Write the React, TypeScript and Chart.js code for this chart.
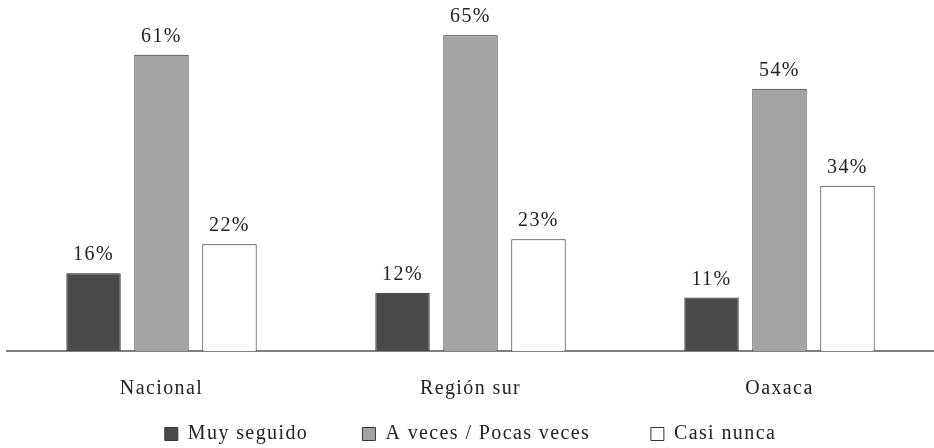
import React, { useEffect, useRef } from "react";
import { Chart, registerables } from "chart.js";

Chart.register(...registerables);

const categories = ["Nacional", "Región sur", "Oaxaca"];
const seriesNames = ["Muy seguido", "A veces / Pocas veces", "Casi nunca"];
const muySeguido = [16, 12, 11];
const aVeces = [61, 65, 54];
const casiNunca = [22, 23, 34];
const seriesColors = ["#4a4a4a", "#a3a3a3", "#ffffff"];

const FONT = "'Liberation Serif', 'Times New Roman', serif";
const SPACING = "1.4px";

const spacingPlugin = {
  id: "spacing",
  beforeUpdate(chart: any) {
    chart.ctx.letterSpacing = SPACING;
  },
  beforeDraw(chart: any) {
    chart.ctx.letterSpacing = SPACING;
  },
};

const labelPlugin = {
  id: "barLabels",
  afterDatasetsDraw(chart: any) {
    const ctx = chart.ctx;
    ctx.save();
    ctx.letterSpacing = SPACING;
    ctx.font = `20px ${FONT}`;
    ctx.fillStyle = "#222";
    ctx.textAlign = "center";
    ctx.textBaseline = "alphabetic";
    chart.data.datasets.forEach((ds: any, i: number) => {
      const meta = chart.getDatasetMeta(i);
      meta.data.forEach((el: any, j: number) => {
        ctx.fillText(`${ds.data[j]}%`, el.x, el.y - 13);
      });
    });
    ctx.restore();
  },
};

export default function App() {
  const ref = useRef<HTMLCanvasElement | null>(null);
  useEffect(() => {
    document.body.style.margin = "0";
    const values = [muySeguido, aVeces, casiNunca];
    const chart = new Chart(ref.current as HTMLCanvasElement, {
      type: "bar",
      data: {
        labels: categories,
        datasets: seriesNames.map((name, i) => ({
          label: name,
          data: values[i],
          backgroundColor: seriesColors[i],
          borderColor: "#222",
          borderWidth: 1,
          categoryPercentage: 0.66,
          barPercentage: 0.8,
        })),
      },
      options: {
        animation: false,
        responsive: false,
        maintainAspectRatio: false,
        layout: { padding: { left: 7, right: 0, top: 11, bottom: -6 } },
        plugins: {
          tooltip: { enabled: false },
          legend: {
            position: "bottom",
            labels: {
              font: { family: FONT, size: 20 },
              color: "#222",
              boxWidth: 13,
              boxHeight: 13,
              padding: 3,
              generateLabels: (chart: any) =>
                chart.data.datasets.map((ds: any, i: number) => ({
                  text: ds.label + (i === 0 ? "        " : i === 1 ? "         " : ""),
                  fillStyle: ds.backgroundColor,
                  strokeStyle: "#333",
                  lineWidth: 1,
                  datasetIndex: i,
                  fontColor: "#222",
                })),
            },
          },
        },
        scales: {
          x: {
            grid: { display: false, drawTicks: false },
            border: { display: true, color: "#808080", width: 2 },
            ticks: {
              font: { family: FONT, size: 20 },
              color: "#222",
              padding: 26,
            },
            afterFit: (scale: any) => {
              scale.height = 70;
            },
          },
          y: {
            display: false,
            min: 0,
            max: 70,
          },
        },
      },
      plugins: [spacingPlugin, labelPlugin],
    });
    return () => chart.destroy();
  }, []);
  return (
    <div style={{ position: "absolute", left: 0, top: 0, width: 934, height: 448, background: "#fff" }}>
      <canvas ref={ref} width={934} height={448} style={{ width: 934, height: 448 }} />
    </div>
  );
}
